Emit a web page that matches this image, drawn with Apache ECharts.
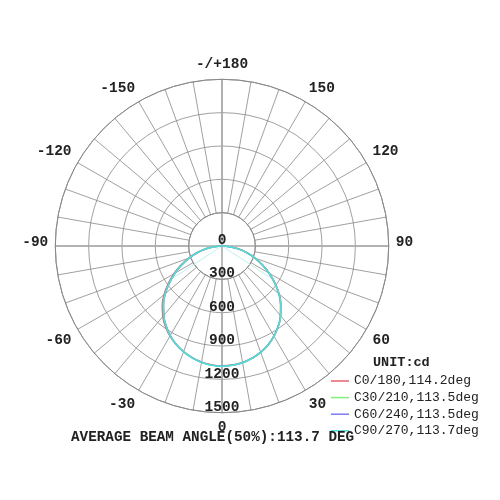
<!DOCTYPE html>
<html>
<head>
<meta charset="utf-8">
<script src="https://cdn.jsdelivr.net/npm/echarts@6/dist/echarts.min.js"></script>
<style>
  html, body { margin: 0; padding: 0; background: #fff; }
  #chart { width: 500px; height: 500px; }
</style>
</head>
<body>
<div id="chart"></div>
<script>
// gamma angles (deg) for each C-plane pair, -90..90
var angles = [-90, -85, -80, -75, -70, -65, -60, -55, -50, -45, -40, -35, -30, -25, -20, -15, -10, -5,
  0, 5, 10, 15, 20, 25, 30, 35, 40, 45, 50, 55, 60, 65, 70, 75, 80, 85, 90]
// intensity in cd
var c0 = [5, 70, 152, 235, 322, 410, 500, 590, 680, 760, 828, 886, 936, 978, 1012, 1040, 1060, 1073,
  1078, 1075, 1064, 1044, 1016, 980, 934, 880, 818, 745, 664, 576, 486, 396, 310, 226, 146, 66, 5]
var c30 = [5, 66, 146, 226, 312, 398, 488, 578, 666, 746, 816, 878, 932, 976, 1012, 1040, 1062, 1076,
  1080, 1077, 1066, 1046, 1018, 982, 936, 882, 820, 748, 668, 580, 490, 400, 314, 230, 150, 68, 5]
var c60 = [5, 66, 145, 225, 310, 396, 486, 576, 664, 744, 814, 876, 930, 975, 1011, 1040, 1062, 1076,
  1080, 1077, 1066, 1046, 1018, 982, 936, 882, 820, 748, 670, 582, 492, 402, 316, 230, 150, 68, 5]
var c90 = [5, 66, 146, 226, 311, 397, 487, 577, 665, 745, 815, 877, 931, 976, 1012, 1041, 1063, 1077,
  1081, 1078, 1067, 1047, 1019, 983, 937, 883, 821, 749, 668, 580, 490, 400, 314, 228, 148, 67, 5]
var seriesNames = ['C0/180,114.2deg', 'C30/210,113.5deg', 'C60/240,113.5deg', 'C90/270,113.7deg']
var seriesColors = ['#e8606c', '#7ef07e', '#7c7cf0', '#50e0d4']
// half beam angle and 50% intensity
var beamHalf = 56.85
var halfValue = 540
var radiusTicks = [0, 300, 600, 900, 1200, 1500]

var myChart = echarts.init(document.getElementById('chart'))
var font = '"Liberation Mono", "DejaVu Sans Mono", monospace'
var cx = 222
var cy = 246
var R = 166.7

// polar 1 runs 0..360 from the bottom, so negative gammas wrap round
function wrap (a) {
  return a < 0 ? a + 360 : a
}

function toPairs (vals) {
  var out = []
  for (var i = 0; i < angles.length; i++) {
    out.push([vals[i], wrap(angles[i])])
  }
  return out
}

var allData = [c0, c30, c60, c90]
var series = []
for (var i = 0; i < allData.length; i++) {
  series.push({
    name: seriesNames[i],
    type: 'line',
    coordinateSystem: 'polar',
    polarIndex: 1,
    symbol: 'none',
    smooth: true,
    lineStyle: { color: seriesColors[i], width: 1.5 },
    itemStyle: { color: seriesColors[i] },
    data: toPairs(allData[i]),
    z: 5 + i
  })
}
// beam angle lines
series.push({
  type: 'line',
  coordinateSystem: 'polar',
  polarIndex: 1,
  symbol: 'none',
  lineStyle: { color: '#bfeeee', width: 1 },
  data: [[halfValue, wrap(-beamHalf)], [0, 0], [halfValue, beamHalf]],
  z: 4
})

var labelFont = {
  fontFamily: font,
  fontSize: 14.5,
  fontWeight: 'bold',
  color: '#222'
}

myChart.setOption({
  animation: false,
  title: [
    {
      text: 'UNIT:cd',
      left: 368,
      top: 351,
      textStyle: { fontFamily: font, fontSize: 13.5, fontWeight: 'bold', color: '#222' }
    },
    {
      text: 'AVERAGE BEAM ANGLE(50%):113.7 DEG',
      left: 66,
      top: 425,
      textStyle: { fontFamily: font, fontSize: 14.3, fontWeight: 'bold', color: '#222' }
    }
  ],
  legend: {
    data: seriesNames,
    orient: 'vertical',
    left: 326,
    top: 369,
    itemWidth: 18,
    itemHeight: 1.5,
    itemGap: 2.6,
    icon: 'rect',
    textStyle: { fontFamily: font, fontSize: 13, color: '#222', lineHeight: 14 }
  },
  polar: [
    { center: [cx, cy], radius: [R / 5, R] },
    { center: [cx, cy], radius: [0, R] }
  ],
  angleAxis: [
    {
      polarIndex: 0,
      type: 'value',
      min: -180,
      max: 180,
      interval: 10,
      startAngle: 90,
      clockwise: false,
      axisLine: { lineStyle: { color: '#888', width: 1 } },
      axisTick: { show: false },
      splitLine: { lineStyle: { color: '#888', width: 0.8 } },
      axisLabel: Object.assign({
        margin: 7,
        formatter: function (v) {
          if (v === -180) return '-/+180'
          if (v === 180) return ''
          if (v === 90 || v === -90) return '{side|' + v + '}'
          return v % 30 === 0 ? String(v) : ''
        },
        rich: {
          side: Object.assign({ padding: [0, 0, 8, 0] }, labelFont)
        }
      }, labelFont)
    },
    {
      polarIndex: 1,
      type: 'value',
      min: 0,
      max: 360,
      interval: 90,
      startAngle: 270,
      clockwise: false,
      axisLine: { show: false },
      axisTick: { show: false },
      axisLabel: { show: false },
      splitLine: { lineStyle: { color: '#aaa', width: 1.6 } }
    }
  ],
  radiusAxis: [
    {
      polarIndex: 0,
      type: 'value',
      min: 300,
      max: 1500,
      interval: 300,
      axisLine: { show: false },
      axisTick: { show: false },
      axisLabel: { show: false },
      splitLine: { lineStyle: { color: '#888', width: 0.8 } }
    },
    {
      polarIndex: 1,
      type: 'value',
      min: 0,
      max: 1500,
      interval: 300,
      axisLine: { show: false },
      axisTick: { show: false },
      splitLine: { show: false },
      axisLabel: Object.assign({
        margin: 0,
        align: 'center',
        verticalAlign: 'middle',
        formatter: function (v) {
          return radiusTicks.indexOf(v) >= 0 ? '{r|' + v + '}' : ''
        },
        rich: {
          r: Object.assign({ padding: [0, 0, 11, 0] }, labelFont)
        }
      }, labelFont)
    }
  ],
  series: series
})
</script>
</body>
</html>
